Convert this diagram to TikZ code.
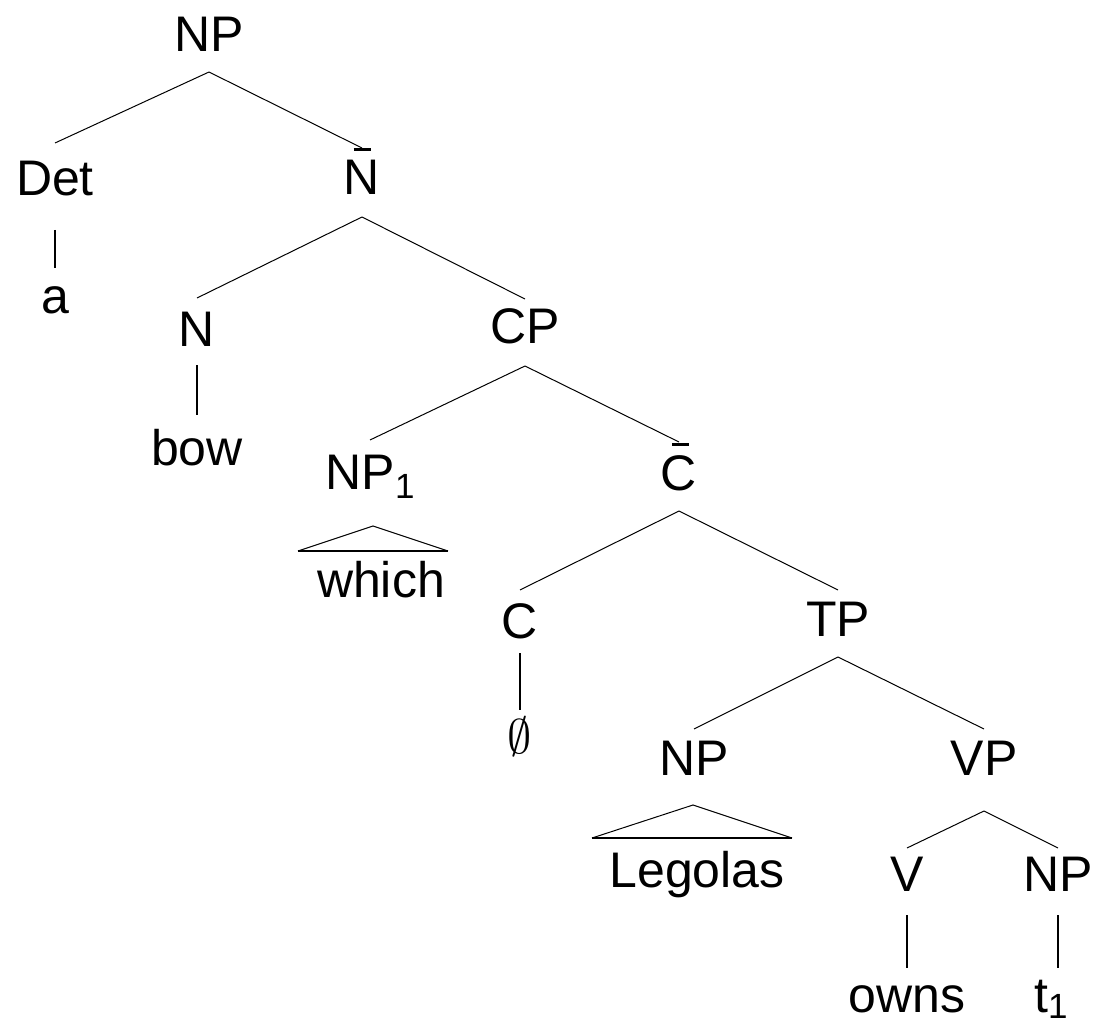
\documentclass[tikz,border=0pt]{standalone}
\usepackage{fontspec}
\usepackage{graphicx}
\setmainfont{Liberation Sans}
\usetikzlibrary{calc}
\newcommand\tedge[4]{\draw[edge] ([yshift=-#3pt]#1.base) -- ([yshift=#4pt]#2.base);}
\newcommand\vedge[4]{\draw[vline] ([yshift=-#3pt]#1.base) -- ([yshift=#4pt]#2.base);}
\newcommand\subone[1]{\raisebox{-#1pt}{\fontsize{35pt}{35pt}\selectfont 1}}
\begin{document}
\begin{tikzpicture}[x=1pt,y=-1pt,
  lab/.style={anchor=base,inner sep=0pt,font=\fontsize{50pt}{50pt}\selectfont},
  edge/.style={line width=1pt,black},
  vline/.style={line width=2.5pt,black},
  barline/.style={line width=3pt,black},
  triside/.style={line width=1pt,black},
  tribase/.style={line width=2.5pt,black}]
\useasboundingbox (0,0) rectangle (1095,1024);
% nodes
\node[lab] (np0) at (209,52) {NP};
\node[lab] (det) at (55,196) {Det};
\node[lab] (nb) at (362,195) {N};
\node[lab] (a) at (55,314) {a};
\node[lab] (n) at (197,346) {N};
\node[lab] (bow) at (197,465) {bow};
\node[lab] (cp) at (525,343) {CP};
\node[lab] (np1) at (370,489) {NP\subone{9}};
\node[lab] (which) at (381,597) {which};
\node[lab] (cb) at (679,490) {C};
\node[lab] (c) at (520,638) {C};
\node[lab] (tp) at (838,636) {TP};
\node[lab] (empty) at (520,753) {\scalebox{1.95}{$\emptyset$}};
\node[lab] (np2) at (694,775) {NP};
\node[lab] (vp) at (984,775) {VP};
\node[lab] (leg) at (697,887) {Legolas};
\node[lab] (v) at (907,891) {V};
\node[lab] (np3) at (1058,891) {NP};
\node[lab] (owns) at (907,1012) {owns};
\node[lab] (t1) at (1051,1012) {t\subone{6}};
% bars
\draw[barline] ([xshift=-8.5pt,yshift=45pt]nb.base) -- ++(17,0);
\draw[barline] ([xshift=-7pt,yshift=46pt]cb.base) -- ++(17,0);
% edges
\tedge{np0}{det}{20}{53}
\tedge{np0}{nb}{20}{47}
\tedge{nb}{n}{22}{48}
\tedge{nb}{cp}{22}{44}
\tedge{cp}{np1}{23}{49}
\tedge{cp}{cb}{23}{48}
\tedge{cb}{c}{21}{48}
\tedge{cb}{tp}{21}{46}
\tedge{tp}{np2}{21}{46}
\tedge{tp}{vp}{21}{46}
\tedge{vp}{v}{36}{43}
\tedge{vp}{np3}{36}{43}
% vertical lines
\vedge{det}{a}{34}{46}
\vedge{n}{bow}{19}{50}
\vedge{c}{empty}{15}{43}
\vedge{v}{owns}{24}{44}
\draw[vline] ([yshift=-24pt]np3.base) -- ($(np3.base |- t1.base)+(0,-44)$);
% triangles
\coordinate (tri1a) at (373,526);
\draw[triside] (298,551) -- (tri1a) -- (448,551);
\draw[tribase] (298,551) -- (448,551);
\coordinate (tri2a) at (693,805);
\draw[triside] (592,838) -- (tri2a) -- (792,838);
\draw[tribase] (592,838) -- (792,838);
\end{tikzpicture}
\end{document}
